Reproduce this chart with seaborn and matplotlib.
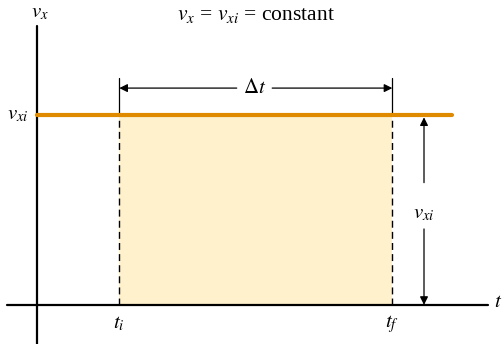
import matplotlib
matplotlib.use("Agg")
import matplotlib.pyplot as plt
import seaborn as sns
import pandas as pd

# data
t_i = 3.0
t_f = 13.0
v_xi = 5.0
t_line = [0.0, 15.2]
v_line = [v_xi, v_xi]
labels = {"vx": r"$v_x$", "vxi": r"$v_{xi}$", "ti": r"$t_i$", "tf": r"$t_f$", "t": r"$t$",
          "dt": r"$\Delta t$", "title": r"$v_x$ = $v_{xi}$ = constant"}

sns.set_theme(style="white")
plt.rcParams["font.family"] = ["Liberation Serif", "DejaVu Serif"]
plt.rcParams["mathtext.fontset"] = "stix"
plt.rcParams["text.color"] = "black"

fig = plt.figure(figsize=(5.04, 3.44), dpi=100)
ax = fig.add_axes([0, 0, 1, 1])
ax.set_xlim(-1.37, 17.09)
ax.set_ylim(-1.03, 8.03)
ax.axis("off")

orange = "#E08A00"
fill_c = "#FEF1CB"

# shaded area
ax.fill_between([t_i, t_f], [0, 0], [v_xi, v_xi], color=fill_c, lw=0, zorder=1)

# axes
ax.plot([-1.1, 16.5], [0, 0], color="black", lw=1.6, zorder=3)
ax.plot([0, 0], [-1.1, 7.34], color="black", lw=1.6, zorder=3)

# dashed lines
for tv in (t_i, t_f):
    ax.plot([tv, tv], [0, v_xi], color="black", lw=1.0, ls=(0, (5, 3)), zorder=2)
    ax.plot([tv, tv], [v_xi, 5.97], color="black", lw=0.9, zorder=2)

# orange line
df = pd.DataFrame({"t": t_line, "v": v_line})
sns.lineplot(data=df, x="t", y="v", color=orange, lw=3.0, ax=ax, zorder=4)

# delta t arrows
ya = 5.71
ax.annotate("", xy=(t_i, ya), xytext=(7.3, ya),
            arrowprops=dict(arrowstyle="-|>", color="black", lw=0.9, mutation_scale=12,
                            shrinkA=0, shrinkB=0))
ax.annotate("", xy=(t_f, ya), xytext=(8.6, ya),
            arrowprops=dict(arrowstyle="-|>", color="black", lw=0.9, mutation_scale=12,
                            shrinkA=0, shrinkB=0))
ax.text((t_i + t_f) / 2 - 0.05, ya, labels["dt"], ha="center", va="center", fontsize=15)

# v_xi arrows
xa = 14.16
ax.annotate("", xy=(xa, v_xi - 0.06), xytext=(xa, 3.22),
            arrowprops=dict(arrowstyle="-|>", color="black", lw=0.9, mutation_scale=12,
                            shrinkA=0, shrinkB=0))
ax.annotate("", xy=(xa, 0.0), xytext=(xa, 2.0),
            arrowprops=dict(arrowstyle="-|>", color="black", lw=0.9, mutation_scale=12,
                            shrinkA=0, shrinkB=0))
ax.text(xa, 2.4, labels["vxi"], ha="center", va="center", fontsize=15)

# labels
ax.text(0.08, 7.7, labels["vx"], ha="center", va="center", fontsize=15)
ax.text(-0.7, v_xi, labels["vxi"], ha="center", va="center", fontsize=15)
ax.text(t_i, -0.5, labels["ti"], ha="center", va="center", fontsize=15)
ax.text(t_f, -0.5, labels["tf"], ha="center", va="center", fontsize=15)
ax.text(16.87, 0.05, labels["t"], ha="center", va="center", fontsize=15)
ax.text(8.0, 7.62, labels["title"], ha="center", va="center", fontsize=15.5)

fig.savefig("out.png", dpi=100)
